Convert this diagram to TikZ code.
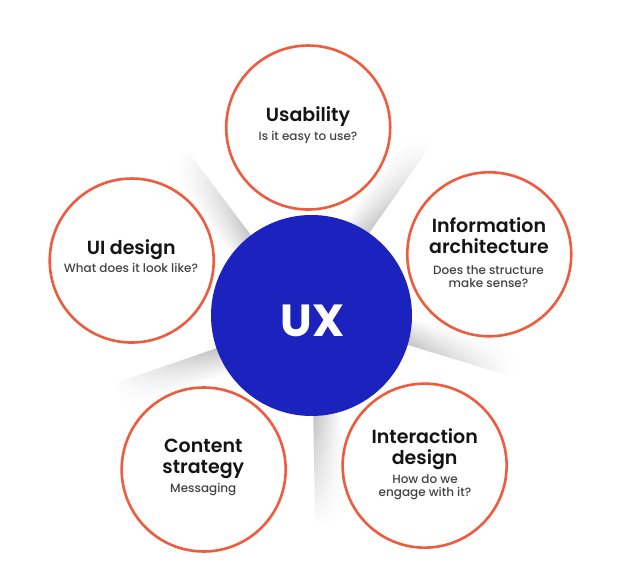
\documentclass[tikz,border=0pt]{standalone}
\usepackage{fontspec}
\setmainfont{Poppins}
\IfFontExistsTF{Poppins SemiBold}{\newfontfamily\ttlfont{Poppins SemiBold}}{\newcommand\ttlfont{\bfseries}}
\IfFontExistsTF{Poppins Medium}{\newfontfamily\subfont{Poppins Medium}}{\newcommand\subfont{}}
\usetikzlibrary{fadings}
\definecolor{uxblue}{HTML}{1B22BE}
\definecolor{ring}{HTML}{EE5B3E}
\definecolor{subgray}{HTML}{444444}
\tikzfading[name=rayfade, left color=transparent!0, right color=transparent!100]
\begin{document}
\begin{tikzpicture}[x=1pt,y=1pt,
  topic/.style={circle, draw=ring, line width=2.6pt, fill=white, minimum size=164pt, inner sep=0pt},
  ttl/.style={anchor=base, align=center, font=\fontsize{19}{21}\selectfont\ttlfont, text=black!92},
  subtxt/.style={anchor=base, align=center, font=\fontsize{12}{13.4}\selectfont\subfont, text=subgray},
  raysh/.style={bottom color=black!32, top color=white, path fading=rayfade}]
\useasboundingbox (-311.5,-261.5) rectangle (308.5,315.5);
% shadow rays
\foreach \a in {127,55,-17,-89,-161}{
  \begin{scope}[transform canvas={rotate=\a}]
    \shade[raysh] (60,0) rectangle (210,28);
  \end{scope}
}
% centre
\node[circle, fill=uxblue, minimum size=201pt, inner sep=0pt] (ux) at (0,0) {};
\node[anchor=base, text=white, font=\fontsize{45}{50}\selectfont\bfseries] (uxlabel) at (1,-21.2) {UX};
% topics
\node[topic] (c1) at (91:188) {};
\node[topic] (c2) at (19:188) {};
\node[topic] (c3) at (-53:188) {};
\node[topic] (c4) at (-125:188) {};
\node[topic] (c5) at (163:188) {};
% texts (multi-line nodes: base = last line's baseline)
\node[ttl] (t1) at (-3.5,193.8) {Usability};
\node[subtxt] (s1) at (-3.5,174.5) {Is it easy to use?};
\node[ttl] (t2) at (177.5,61.5) {Information\\architecture};
\node[subtxt] (s2) at (177,27.8) {Does the structure\\make sense?};
\node[ttl] (t3) at (113.2,-148.8) {Interaction\\design};
\node[subtxt] (s3) at (113.5,-181.2) {How do we\\engage with it?};
\node[ttl] (t4) at (-108.2,-157.8) {Content\\strategy};
\node[subtxt] (s4) at (-108.2,-177.2) {Messaging};
\node[ttl] (t5) at (-180.3,61.2) {UI design};
\node[subtxt] (s5) at (-180.5,42.8) {What does it look like?};
\end{tikzpicture}
\end{document}
